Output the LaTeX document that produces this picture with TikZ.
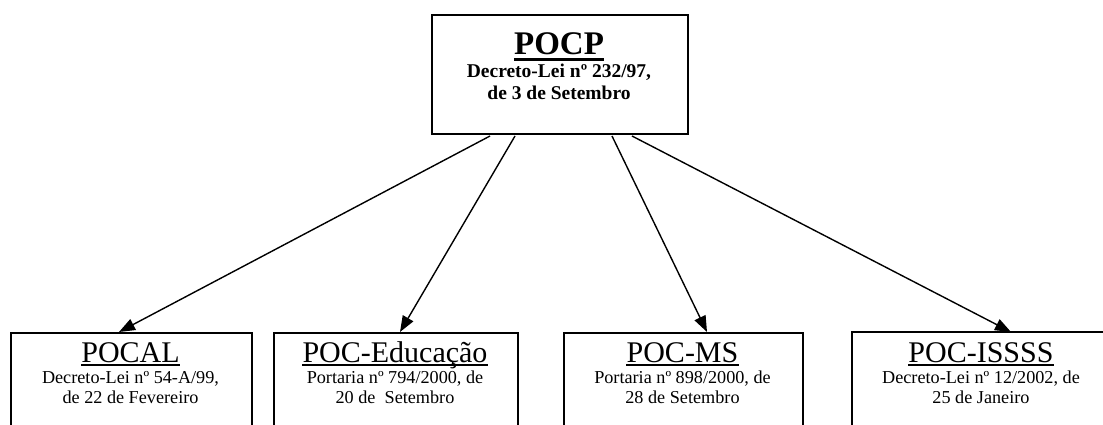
\documentclass[tikz,border=0pt]{standalone}
\usepackage{fontspec}
\setmainfont{Liberation Serif}
\usetikzlibrary{arrows.meta,calc}

\begin{document}
\begin{tikzpicture}[x=1pt,y=-1pt,
  box/.style={draw, line width=1.6pt, inner sep=0pt, anchor=north west},
  toptitle/.style={inner sep=0pt, anchor=base, font=\fontsize{33}{33}\selectfont\bfseries},
  topsub/.style={inner sep=0pt, anchor=base, font=\fontsize{19.5}{22}\selectfont\bfseries},
  title/.style={inner sep=0pt, anchor=base, font=\fontsize{30}{30}\selectfont},
  sub/.style={inner sep=0pt, anchor=base, font=\fontsize{18.2}{21}\selectfont},
  uline/.style={line width=#1},
  link/.style={line width=1.4pt, -{Triangle[length=16pt,width=12pt]}}
]
\useasboundingbox (0,0) rectangle (1103,425);
\clip (0,0) rectangle (1103,425);

% top box
\node[box, minimum width=256pt, minimum height=119pt] (pocp) at (431,14) {};
\node[toptitle] (pocpT) at (559,55) {POCP};
\node[topsub] (pocpA) at (559,78) {Decreto-Lei nº 232/97,};
\node[topsub] (pocpB) at (559,100) {de 3 de Setembro};
\draw[uline=3.2pt] ($(pocpT.base west)+(0,4.8)$) -- ($(pocpT.base east)+(0,4.8)$);

% lower boxes (they run past the lower edge)
\node[box, minimum width=241pt, minimum height=120pt] (pocal) at (10,332) {};
\node[title] (pocalT) at (130.5,362) {POCAL};
\node[sub] (pocalA) at (130.5,383) {Decreto-Lei nº 54-A/99,};
\node[sub] (pocalB) at (130.5,403) {de 22 de Fevereiro};

\node[box, minimum width=244pt, minimum height=120pt] (edu) at (273,332) {};
\node[title] (eduT) at (395,362) {POC-Educação};
\node[sub] (eduA) at (395,383) {Portaria nº 794/2000, de};
\node[sub] (eduB) at (395,403) {20 de\ \ Setembro};

\node[box, minimum width=239pt, minimum height=120pt] (ms) at (563,332) {};
\node[title] (msT) at (682.5,362) {POC-MS};
\node[sub] (msA) at (682.5,383) {Portaria nº 898/2000, de};
\node[sub] (msB) at (682.5,403) {28 de Setembro};

\node[box, minimum width=260pt, minimum height=120pt] (isss) at (851,331) {};
\node[title] (isssT) at (981,362) {POC-ISSSS};
\node[sub] (isssA) at (981,383) {Decreto-Lei nº 12/2002, de};
\node[sub] (isssB) at (981,403) {25 de Janeiro};

\foreach \t in {pocalT,eduT,msT,isssT}
  \draw[uline=1.4pt] ($(\t.base west)+(0,2.8)$) -- ($(\t.base east)+(0,2.8)$);

% arrow ends
\coordinate (s1) at (490,136);
\coordinate (s2) at (515,136);
\coordinate (s3) at (612,136);
\coordinate (s4) at (632,136);
\coordinate (e1) at ($(pocal.north west)+(109,0)$);
\coordinate (e2) at ($(edu.north west)+(127,0)$);
\coordinate (e3) at ($(ms.north west)+(144,0)$);
\coordinate (e4) at ($(isss.north west)+(160,1)$);

\draw[link] (s1) -- (e1);
\draw[link] (s2) -- (e2);
\draw[link] (s3) -- (e3);
\draw[link] (s4) -- (e4);
\end{tikzpicture}
\end{document}
